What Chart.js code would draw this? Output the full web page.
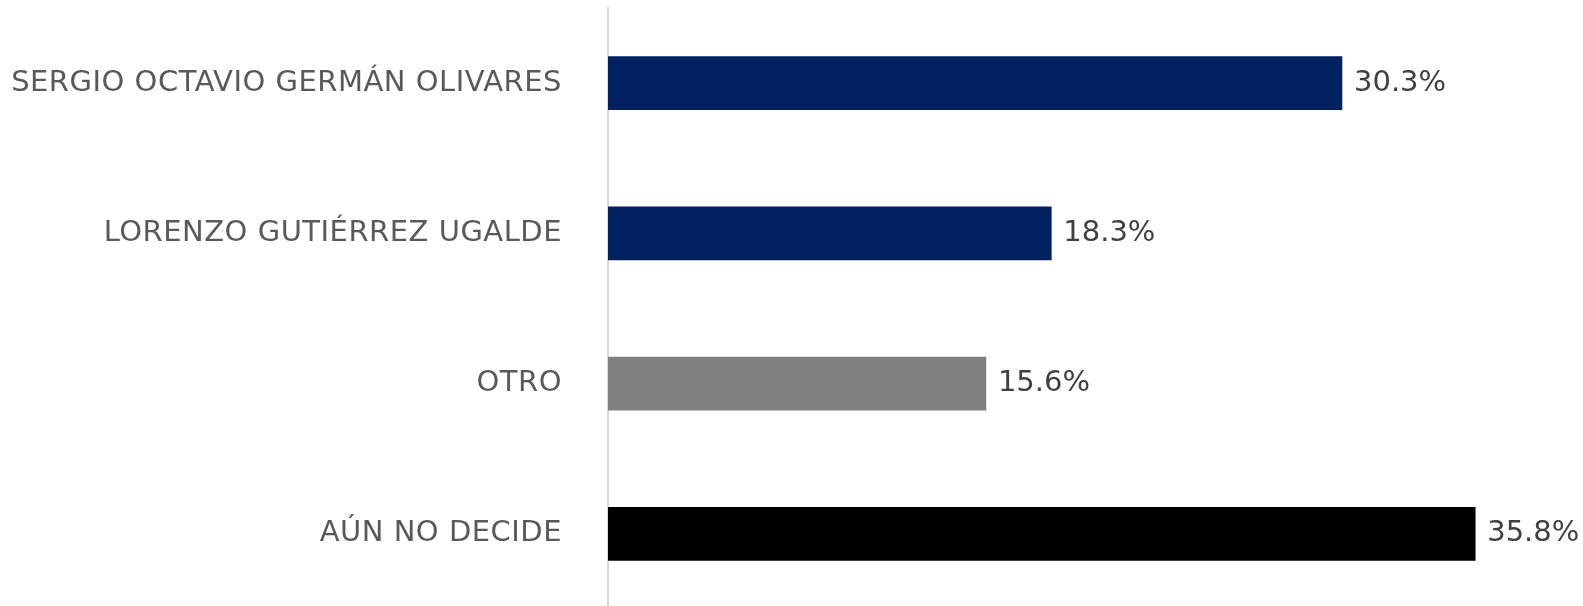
<!DOCTYPE html>
<html>
<head>
<meta charset="utf-8">
<script src="https://cdn.jsdelivr.net/npm/chart.js@4"></script>
<style>
html,body{margin:0;padding:0;background:#fff;overflow:hidden;}
</style>
</head>
<body>
<canvas id="c" width="1583" height="609" style="display:block;width:1583px;height:609px;"></canvas>
<script>
const categories = ["SERGIO OCTAVIO GERMÁN OLIVARES", "LORENZO GUTIÉRREZ UGALDE", "OTRO", "AÚN NO DECIDE"];
const values = [30.3, 18.3, 15.6, 35.8];
const barColors = ["#002060", "#002060", "#808080", "#000000"];
const valueLabels = ["30.3%", "18.3%", "15.6%", "35.8%"];

const FONT = "'DejaVu Sans', sans-serif";
const FSIZE = 29;

const valuePlugin = {
  id: 'valueLabels',
  beforeDraw(chart) {
    chart.ctx.letterSpacing = "0.5px";
  },
  afterDatasetsDraw(chart) {
    const ctx = chart.ctx;
    const meta = chart.getDatasetMeta(0);
    ctx.save();
    ctx.letterSpacing = "0px";
    ctx.font = FSIZE + "px " + FONT;
    ctx.fillStyle = "#404040";
    ctx.textAlign = "left";
    ctx.textBaseline = "middle";
    meta.data.forEach((bar, i) => {
      ctx.fillText(valueLabels[i], bar.x + 12, bar.y);
    });
    ctx.restore();
  }
};

new Chart(document.getElementById('c'), {
  type: 'bar',
  data: {
    labels: categories,
    datasets: [{
      data: values,
      backgroundColor: barColors,
      borderWidth: 0,
      barThickness: 53
    }]
  },
  options: {
    indexAxis: 'y',
    responsive: false,
    maintainAspectRatio: false,
    animation: false,
    layout: { padding: { top: 8, right: 0, bottom: 0, left: 0 } },
    plugins: { legend: { display: false }, tooltip: { enabled: false } },
    scales: {
      x: { display: false, min: 0, max: 40.25 },
      y: {
        grid: { display: false, drawTicks: false },
        border: { display: true, color: "#d9d9d9", width: 2 },
        ticks: { color: "#595959", font: { family: FONT, size: FSIZE }, padding: 46 },
        afterFit(scale) { scale.width = 608; scale.paddingTop = 0; scale.paddingBottom = 0; }
      }
    }
  },
  plugins: [valuePlugin]
});
</script>
</body>
</html>
